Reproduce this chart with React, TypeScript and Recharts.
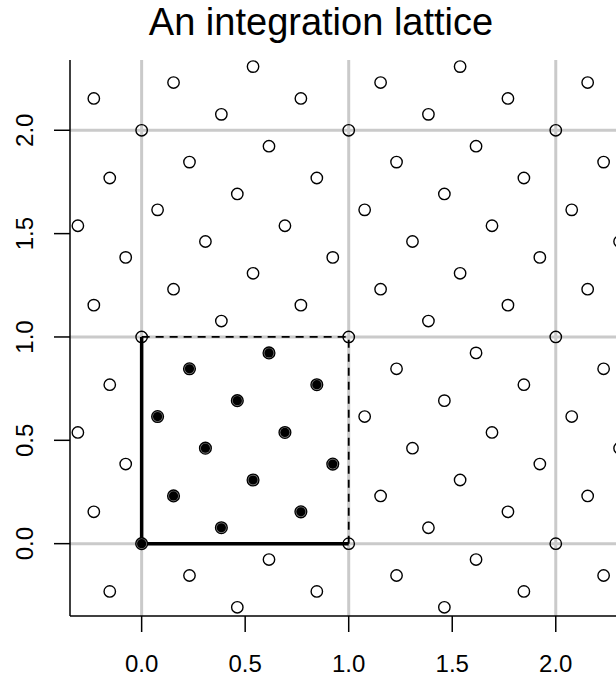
import { ScatterChart, Scatter, XAxis, YAxis, ReferenceLine } from 'recharts';

// 13-point rank-1 lattice inside the unit square
const cellPoints = [
  { x: 0, y: 0 },
  { x: 0.077, y: 0.615 },
  { x: 0.154, y: 0.231 },
  { x: 0.231, y: 0.846 },
  { x: 0.308, y: 0.462 },
  { x: 0.385, y: 0.077 },
  { x: 0.462, y: 0.692 },
  { x: 0.538, y: 0.308 },
  { x: 0.615, y: 0.923 },
  { x: 0.692, y: 0.538 },
  { x: 0.769, y: 0.154 },
  { x: 0.846, y: 0.769 },
  { x: 0.923, y: 0.385 },
];

// the same lattice continued outside the unit square
const outerPoints = [
  { x: 0, y: 1 }, { x: 0, y: 2 }, { x: 1, y: 0 }, { x: 1, y: 1 },
  { x: 1, y: 2 }, { x: 2, y: 0 }, { x: 2, y: 1 }, { x: 2, y: 2 },
  { x: 0.077, y: 1.615 }, { x: 1.077, y: 0.615 }, { x: 1.077, y: 1.615 },
  { x: 2.077, y: 0.615 }, { x: 2.077, y: 1.615 },
  { x: 0.154, y: 1.231 }, { x: 0.154, y: 2.231 }, { x: 1.154, y: 0.231 },
  { x: 1.154, y: 1.231 }, { x: 1.154, y: 2.231 }, { x: 2.154, y: 0.231 },
  { x: 2.154, y: 1.231 }, { x: 2.154, y: 2.231 },
  { x: 0.231, y: -0.154 }, { x: 0.231, y: 1.846 }, { x: 1.231, y: -0.154 },
  { x: 1.231, y: 0.846 }, { x: 1.231, y: 1.846 }, { x: 2.231, y: -0.154 },
  { x: 2.231, y: 0.846 }, { x: 2.231, y: 1.846 },
  { x: 0.308, y: 1.462 }, { x: 1.308, y: 0.462 }, { x: 1.308, y: 1.462 },
  { x: 2.308, y: 0.462 }, { x: 2.308, y: 1.462 },
  { x: 0.385, y: 1.077 }, { x: 0.385, y: 2.077 }, { x: 1.385, y: 0.077 },
  { x: 1.385, y: 1.077 }, { x: 1.385, y: 2.077 },
  { x: 0.462, y: -0.308 }, { x: 0.462, y: 1.692 }, { x: 1.462, y: -0.308 },
  { x: 1.462, y: 0.692 }, { x: 1.462, y: 1.692 },
  { x: 0.538, y: 1.308 }, { x: 0.538, y: 2.308 }, { x: 1.538, y: 0.308 },
  { x: 1.538, y: 1.308 }, { x: 1.538, y: 2.308 },
  { x: 0.615, y: -0.077 }, { x: 0.615, y: 1.923 }, { x: 1.615, y: -0.077 },
  { x: 1.615, y: 0.923 }, { x: 1.615, y: 1.923 },
  { x: -0.308, y: 0.538 }, { x: -0.308, y: 1.538 }, { x: 0.692, y: 1.538 },
  { x: 1.692, y: 0.538 }, { x: 1.692, y: 1.538 },
  { x: -0.231, y: 0.154 }, { x: -0.231, y: 1.154 }, { x: -0.231, y: 2.154 },
  { x: 0.769, y: 1.154 }, { x: 0.769, y: 2.154 }, { x: 1.769, y: 0.154 },
  { x: 1.769, y: 1.154 }, { x: 1.769, y: 2.154 },
  { x: -0.154, y: -0.231 }, { x: -0.154, y: 0.769 }, { x: -0.154, y: 1.769 },
  { x: 0.846, y: -0.231 }, { x: 0.846, y: 1.769 }, { x: 1.846, y: -0.231 },
  { x: 1.846, y: 0.769 }, { x: 1.846, y: 1.769 },
  { x: -0.077, y: 0.385 }, { x: -0.077, y: 1.385 }, { x: 0.923, y: 1.385 },
  { x: 1.923, y: 0.385 }, { x: 1.923, y: 1.385 },
];

const axisTicks = [0, 0.5, 1, 1.5, 2];
const gridLines = [0, 1, 2];

const FONT = '"Liberation Sans", Arial, Helvetica, sans-serif';

const OpenDot = (props: any) => (
  <circle cx={props.cx} cy={props.cy} r={5.7} fill="none" stroke="#000" strokeWidth={1.4} />
);

const FilledDot = (props: any) => (
  <g>
    <circle cx={props.cx} cy={props.cy} r={5.9} fill="#888" stroke="#000" strokeWidth={1.3} />
    <circle cx={props.cx} cy={props.cy} r={4.6} fill="#000" />
  </g>
);

const XTick = (props: any) => (
  <text x={props.x} y={672} textAnchor="middle" fontSize={24} fontFamily={FONT} fill="#000">
    {Number(props.payload.value).toFixed(1)}
  </text>
);

const YTick = (props: any) => (
  <text
    x={33}
    y={props.y}
    transform={`rotate(-90, 33, ${props.y})`}
    textAnchor="middle"
    fontSize={24}
    fontFamily={FONT}
    fill="#000"
  >
    {Number(props.payload.value).toFixed(1)}
  </text>
);

export default function App() {
  return (
    <div
      style={{
        position: 'absolute',
        left: 0,
        top: 0,
        width: 616,
        height: 677,
        overflow: 'hidden',
        background: '#fff',
      }}
    >
      <div
        style={{
          position: 'absolute',
          left: 0,
          top: 3,
          width: 642,
          textAlign: 'center',
          fontFamily: FONT,
          fontSize: 38,
          lineHeight: '38px',
          color: '#000',
        }}
      >
        An integration lattice
      </div>
      <ScatterChart width={637} height={677} margin={{ top: 60, right: 10, bottom: 0, left: 0 }}>
        <XAxis
          type="number"
          dataKey="x"
          domain={[-0.346, 2.344]}
          allowDataOverflow
          ticks={axisTicks}
          height={61}
          tickSize={16}
          tick={<XTick />}
          axisLine={{ stroke: '#000', strokeWidth: 1.5 }}
          tickLine={{ stroke: '#000', strokeWidth: 1.5 }}
        />
        <YAxis
          type="number"
          dataKey="y"
          domain={[-0.35, 2.34]}
          allowDataOverflow
          ticks={axisTicks}
          width={70}
          tickSize={16}
          tick={<YTick />}
          axisLine={{ stroke: '#000', strokeWidth: 1.5 }}
          tickLine={{ stroke: '#000', strokeWidth: 1.5 }}
        />
        <Scatter data={outerPoints} shape={<OpenDot />} isAnimationActive={false} />
        {gridLines.map((v) => (
          <ReferenceLine key={`gx${v}`} x={v} stroke="#cacaca" strokeWidth={3} />
        ))}
        {gridLines.map((v) => (
          <ReferenceLine key={`gy${v}`} y={v} stroke="#cacaca" strokeWidth={3} />
        ))}
        <ReferenceLine segment={[{ x: 0, y: 0 }, { x: 1, y: 0 }]} stroke="#000" strokeWidth={3.5} />
        <ReferenceLine segment={[{ x: 0, y: 0 }, { x: 0, y: 1 }]} stroke="#000" strokeWidth={3.5} />
        <ReferenceLine
          segment={[{ x: 0, y: 1 }, { x: 1, y: 1 }]}
          stroke="#000"
          strokeWidth={1.8}
          strokeDasharray="8 6"
        />
        <ReferenceLine
          segment={[{ x: 1, y: 0 }, { x: 1, y: 1 }]}
          stroke="#000"
          strokeWidth={1.8}
          strokeDasharray="8 6"
        />
        <Scatter data={cellPoints} shape={<FilledDot />} isAnimationActive={false} />
      </ScatterChart>
    </div>
  );
}
